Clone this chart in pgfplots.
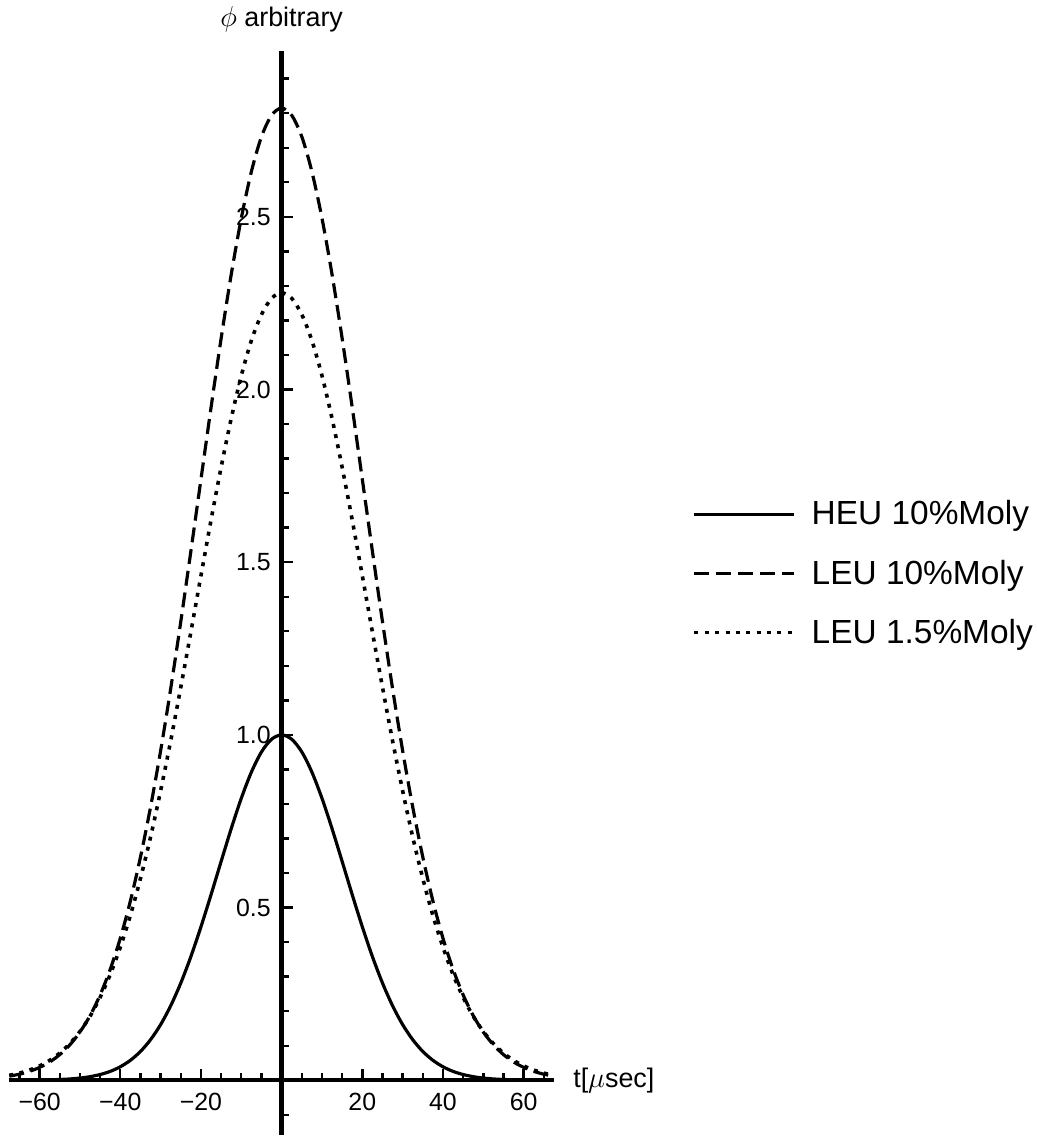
\documentclass[border=0pt]{standalone}
\usepackage{fontspec}
\setmainfont{Liberation Sans}
\usepackage{pgfplots}
\usepackage{pgfplotstable}
\pgfplotsset{compat=1.18}

% flux pulse shapes
\pgfplotstableread{
t      heu     leuten  leulow
-67.5  0.0001  0.0118  0.0143
-65    0.0002  0.0175  0.0207
-62.5  0.0004  0.0257  0.0296
-60    0.0007  0.0372  0.0416
-57.5  0.0012  0.0529  0.0576
-55    0.0022  0.0742  0.0788
-52.5  0.0037  0.1025  0.1063
-50    0.0063  0.1395  0.1413
-47.5  0.0103  0.187   0.185
-45    0.0165  0.247   0.240
-42.5  0.0256  0.321   0.306
-40    0.0390  0.411   0.385
-37.5  0.0577  0.519   0.477
-35    0.0833  0.646   0.584
-32.5  0.1174  0.791   0.704
-30    0.1611  0.954   0.838
-27.5  0.2157  1.134   0.983
-25    0.2815  1.328   1.138
-22.5  0.3581  1.532   1.298
-20    0.4443  1.740   1.461
-17.5  0.5373  1.948   1.622
-15    0.6336  2.148   1.775
-12.5  0.7284  2.333   1.916
-10    0.8164  2.496   2.040
-7.5   0.8922  2.631   2.142
-5     0.9506  2.732   2.217
-2.5   0.9874  2.794   2.264
0      1.0000  2.815   2.280
2.5    0.9874  2.794   2.264
5      0.9506  2.732   2.217
7.5    0.8922  2.631   2.142
10     0.8164  2.496   2.040
12.5   0.7284  2.333   1.916
15     0.6336  2.148   1.775
17.5   0.5373  1.948   1.622
20     0.4443  1.740   1.461
22.5   0.3581  1.532   1.298
25     0.2815  1.328   1.138
27.5   0.2157  1.134   0.983
30     0.1611  0.954   0.838
32.5   0.1174  0.791   0.704
35     0.0833  0.646   0.584
37.5   0.0577  0.519   0.477
40     0.0390  0.411   0.385
42.5   0.0256  0.321   0.306
45     0.0165  0.247   0.240
47.5   0.0103  0.187   0.185
50     0.0063  0.1395  0.1413
52.5   0.0037  0.1025  0.1063
55     0.0022  0.0742  0.0788
57.5   0.0012  0.0529  0.0576
60     0.0007  0.0372  0.0416
62.5   0.0004  0.0257  0.0296
65     0.0002  0.0175  0.0207
67.5   0.0001  0.0118  0.0143
}\pulse

\begin{document}
\begin{tikzpicture}
\begin{axis}[
  scale only axis, width=274pt, height=544.5pt,
  xmin=-67.6, xmax=67.6, ymin=-0.158, ymax=2.98,
  % axes through the origin, ticks pointing up / right
  axis lines=left, axis line style={-, line width=2.2pt},
  axis x line shift=-27.42pt, axis y line shift=-137pt,
  tick align=inside, tick style={black, line width=1.2pt},
  major tick length=5.5pt, minor tick length=3.5pt,
  xtick={-60,-40,-20,20,40,60},
  xticklabels={−60,−40,−20,20,40,60},
  minor xtick={-65,-55,-50,-45,-35,-30,-25,-15,-10,-5,5,10,15,25,30,35,45,50,55,65},
  ytick={0.5,1,1.5,2,2.5},
  yticklabels={0.5,1.0,1.5,2.0,2.5},
  minor ytick={-0.1,0.1,0.2,0.3,0.4,0.6,0.7,0.8,0.9,1.1,1.2,1.3,1.4,1.6,1.7,1.8,1.9,2.1,2.2,2.3,2.4,2.6,2.7,2.8,2.9},
  tick label style={font=\fontsize{12.5}{15}\selectfont},
  xticklabel style={yshift=-3pt},
  yticklabel style={xshift=-2pt},
  xlabel={t[$\mu$sec]}, ylabel={$\phi$ arbitrary},
  every axis x label/.style={at={(axis cs:67.6,0)}, anchor=west, xshift=6pt,
    font=\fontsize{13.5}{16}\selectfont},
  every axis y label/.style={at={(axis cs:0,2.98)}, anchor=south, yshift=6pt,
    font=\fontsize{13.5}{16}\selectfont},
  legend style={at={(axis description cs:1.253,0.518)}, anchor=west, draw=none, fill=none,
    font=\fontsize{16.8}{19}\selectfont, row sep=12pt, inner sep=0pt},
  legend cell align=left,
  legend image code/.code={\draw[#1] (0pt,0pt) -- (50pt,0pt); \path (56pt,0pt);},
]
\addplot[black, line width=1.6pt, smooth] table[x=t, y=heu] {\pulse};
\addlegendentry{HEU 10\%Moly}
\addplot[black, line width=1.6pt, smooth, dash pattern=on 7.5pt off 3.5pt] table[x=t, y=leuten] {\pulse};
\addlegendentry{LEU 10\%Moly}
\addplot[black, line width=1.8pt, smooth, dash pattern=on 2pt off 3.2pt] table[x=t, y=leulow] {\pulse};
\addlegendentry{LEU 1.5\%Moly}
\end{axis}
% small blank margin left of the axes, as in the original
\path ([xshift=-4.5pt]current axis.west);
\end{tikzpicture}
\end{document}
